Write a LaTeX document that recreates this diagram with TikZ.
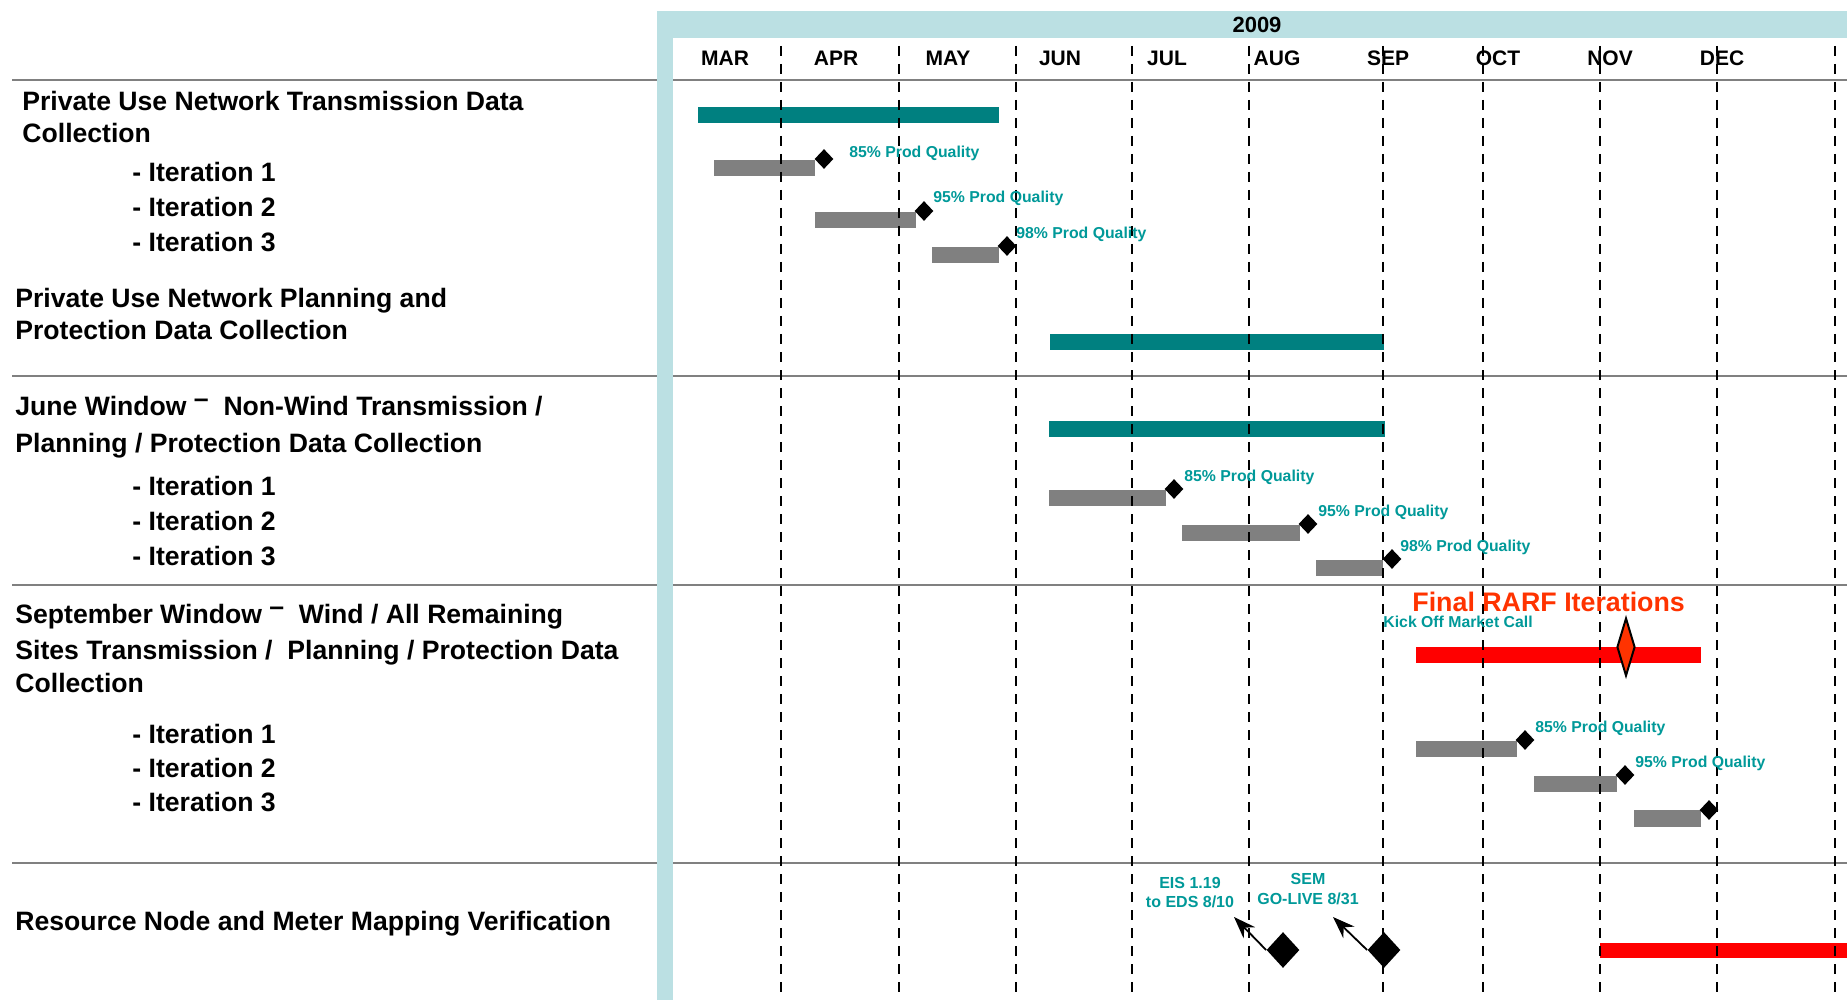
\documentclass[tikz,border=0pt]{standalone}
\usepackage{fontspec}
\setmainfont{Liberation Sans}
\usetikzlibrary{shapes.geometric,arrows.meta}

\definecolor{cabecera}{RGB}{187,224,227}
\definecolor{barraverde}{RGB}{0,128,128}
\definecolor{barragris}{RGB}{128,128,128}
\definecolor{textoverde}{RGB}{0,153,153}
\definecolor{rarf}{RGB}{255,51,0}

\begin{document}
\begin{tikzpicture}[x=0.5pt,y=-0.5pt,
    fila/.style={anchor=base west, inner sep=0pt, font=\fontsize{13.3}{15}\selectfont\bfseries},
    mes/.style={font=\fontsize{10.5}{12}\selectfont\bfseries},
    nota/.style={anchor=base west, inner sep=0pt, text=textoverde, font=\fontsize{7.9}{9}\selectfont\bfseries},
    hito/.style={diamond, fill=black, inner sep=0pt, minimum width=9.5pt, minimum height=10pt},
    hitogrande/.style={diamond, fill=black, inner sep=0pt, minimum width=16.5pt, minimum height=18pt},
    separador/.style={draw=barragris, line width=1.3pt},
    guia/.style={line width=1pt, dash pattern=on 5pt off 4pt}]
  \useasboundingbox (0,0) rectangle (1847,1000);

  % Cabecera
  \fill[cabecera] (657,11) rectangle (1847,1000);
  \fill[white] (673,38) rectangle (1847,1000);
  \node[mes, font=\fontsize{11}{13}\selectfont\bfseries] (anio) at (1257,25) {2009};
  \foreach \m/\x in {MAR/725, APR/836, MAY/948, JUN/1060, JUL/1167,
                     AUG/1277, SEP/1388, OCT/1498, NOV/1610, DEC/1722} {
      \node[mes] (m\m) at (\x,58) {\m};
  }

  % Separadores
  \foreach \y in {80,376,585,863} {
      \draw[separador] (12,\y) -- (1847,\y);
  }
  \fill[cabecera] (657,38) rectangle (673,1000);

  % Barras
  \fill[barraverde] (698,107) rectangle (999,123);
  \fill[barragris] (714,160) rectangle (815,176);
  \fill[barragris] (815,212) rectangle (916,228);
  \fill[barragris] (932,247) rectangle (999,263);
  \fill[barraverde] (1050,334) rectangle (1384,350);

  \fill[barraverde] (1049,421) rectangle (1385,437);
  \fill[barragris] (1049,490) rectangle (1166,506);
  \fill[barragris] (1182,525) rectangle (1300,541);
  \fill[barragris] (1316,560) rectangle (1383,576);

  \fill[red] (1416,647) rectangle (1701,663);
  \fill[barragris] (1416,741) rectangle (1517,757);
  \fill[barragris] (1534,776) rectangle (1617,792);
  \fill[barragris] (1634,810) rectangle (1701,827);

  \fill[red] (1600,943) rectangle (1847,958);

  % Lineas punteadas verticales
  \foreach \x in {781,899,1016,1132,1249,1383,1483,1600,1717,1835} {
      \draw[guia] (\x,46) -- (\x,1000);
  }

  % Hitos
  \node[hito] (h11) at (824,159) {};
  \node[hito] (h12) at (924,211) {};
  \node[hito] (h13) at (1007,246) {};
  \node[hito] (h31) at (1174,489) {};
  \node[hito] (h32) at (1308,524) {};
  \node[hito] (h33) at (1392,559) {};
  \node[hito] (h41) at (1525,740) {};
  \node[hito] (h42) at (1625,775) {};
  \node[hito] (h43) at (1709,810) {};
  \node[diamond, fill=rarf, draw=black, line width=1pt, inner sep=0pt,
        minimum width=9pt, minimum height=29pt] (final) at (1626,647) {};
  \node[hitogrande] (eis) at (1283,950) {};
  \node[hitogrande] (sem) at (1384,950) {};

  % Notas de los hitos
  \node[nota] (n11) at (849,157.5) {85\% Prod Quality};
  \node[nota] (n12) at (933,202.5) {95\% Prod Quality};
  \node[nota] (n13) at (1016,238.5) {98\% Prod Quality};
  \node[nota] (n31) at (1184,481.5) {85\% Prod Quality};
  \node[nota] (n32) at (1318,516.5) {95\% Prod Quality};
  \node[nota] (n33) at (1400,551.5) {98\% Prod Quality};
  \node[nota] (n41) at (1535,732.5) {85\% Prod Quality};
  \node[nota] (n42) at (1635,767.5) {95\% Prod Quality};
  \node[nota] (kick) at (1383,627.5) {Kick Off Market Call};
  \node[anchor=base west, inner sep=0pt, text=rarf, font=\fontsize{13.4}{15}\selectfont\bfseries]
      (rarfnota) at (1412,611) {Final RARF Iterations};
  \node[text=textoverde, font=\fontsize{8}{9.5}\selectfont\bfseries, align=center]
      (eisnota) at (1190,892.5) {EIS 1.19\\to EDS 8/10};
  \node[text=textoverde, font=\fontsize{8}{10}\selectfont\bfseries, align=center]
      (semnota) at (1308,889) {SEM\\GO-LIVE 8/31};

  % Flechas
  \coordinate (feis) at (1234,917);
  \coordinate (fsem) at (1333,917);
  \draw[line width=0.9pt, -{Stealth[length=11pt,width=8pt]}] (eis.west) -- (feis);
  \draw[line width=0.9pt, -{Stealth[length=11pt,width=8pt]}] (sem.west) -- (fsem);

  % Etiquetas de las filas
  \node[fila] (t1a) at (22,110.5) {Private Use Network Transmission Data};
  \node[fila] (t1b) at (22,143) {Collection};
  \node[fila] (i11) at (132,182) {- Iteration 1};
  \node[fila] (i12) at (132,217) {- Iteration 2};
  \node[fila] (i13) at (132,252) {- Iteration 3};

  \node[fila] (t2a) at (15,307.5) {Private Use Network Planning and};
  \node[fila] (t2b) at (15,339) {Protection Data Collection};

  \node[fila] (t3a) at (15,415) {June Window \raisebox{.3em}{\textendash}~ Non-Wind Transmission /};
  \node[fila] (t3b) at (15,452) {Planning / Protection Data Collection};
  \node[fila] (i31) at (132,495) {- Iteration 1};
  \node[fila] (i32) at (132,530) {- Iteration 2};
  \node[fila] (i33) at (132,565) {- Iteration 3};

  \node[fila] (t4a) at (15,623.5) {September Window \raisebox{.3em}{\textendash}~ Wind / All Remaining};
  \node[fila] (t4b) at (15,659.5) {Sites Transmission /~ Planning / Protection Data};
  \node[fila] (t4c) at (15,692.5) {Collection};
  \node[fila] (i41) at (132,743) {- Iteration 1};
  \node[fila] (i42) at (132,777) {- Iteration 2};
  \node[fila] (i43) at (132,811) {- Iteration 3};

  \node[fila] (t5) at (15,930) {Resource Node and Meter Mapping Verification};
\end{tikzpicture}
\end{document}
